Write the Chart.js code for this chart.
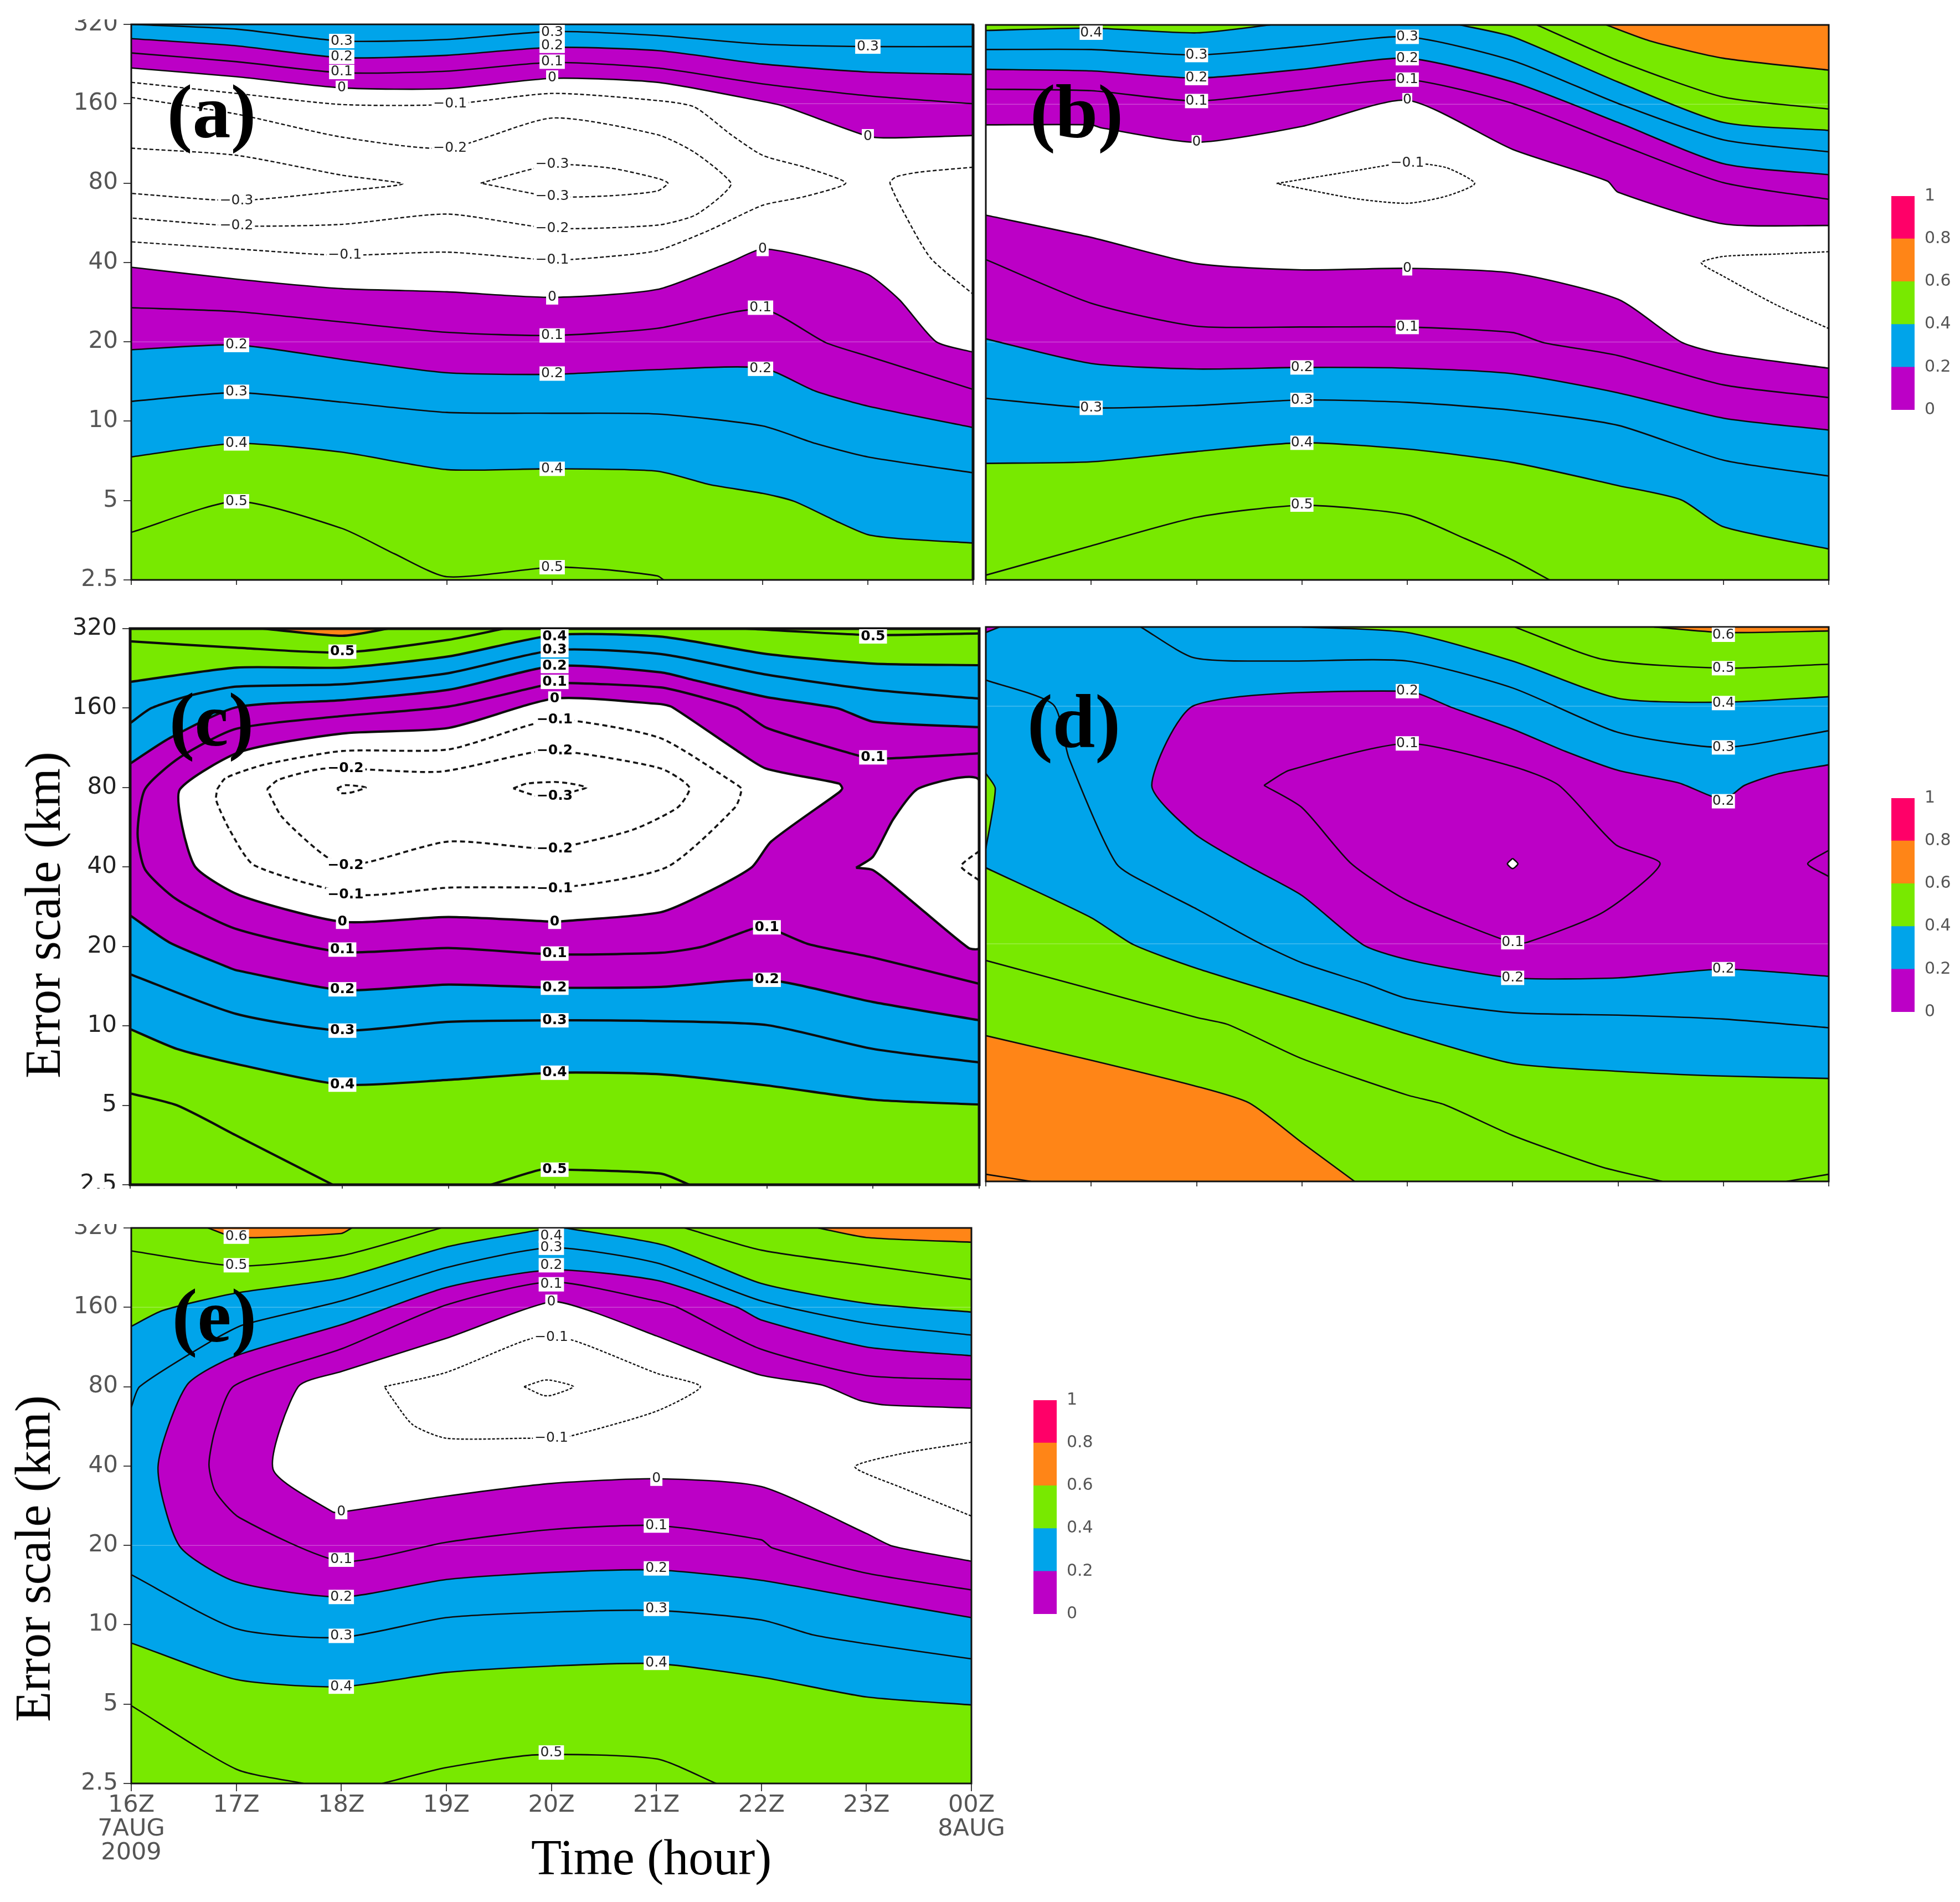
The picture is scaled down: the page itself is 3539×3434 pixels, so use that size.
<!DOCTYPE html>
<html><head><meta charset="utf-8">
<style>
html,body{margin:0;padding:0;background:#fff}
body{position:relative;width:3539px;height:3434px;overflow:hidden}
canvas{position:absolute}
.soft{filter:blur(0.6px)}
.tx{position:absolute;font-family:"Liberation Serif",serif;color:#000;white-space:nowrap;line-height:1}
</style>
<script src="https://cdn.jsdelivr.net/npm/chart.js@4/dist/chart.umd.min.js"></script>
</head><body>
<script>
// ---------- axes ----------
const yTicks = [2.5,5,10,20,40,80,160,320];
const xLabels = [['16Z','7AUG','2009'],'17Z','18Z','19Z','20Z','21Z','22Z','23Z',['00Z','8AUG']];
const barValues = [0.2,0.2,0.2,0.2,0.2];
const GREEN='#78E900',BLUE='#00A4EA',PURPLE='#BC00C6',ORANGE='#FF8517',PINK='#FF0068',WHITE='#FFFFFF';
const barColors = [PURPLE,BLUE,GREEN,ORANGE,PINK];
// Contours: [hour since 16Z, octaves above 2.5 km]
// ---------- panel (a) ----------
const a05=[[0,.6],[1,.99],[2,.65],[2.5,.33],[3,.04],[4,.16],[4.5,.13],[5,.05],[5.06,0]];
const a04=[[0,1.55],[1,1.72],[2,1.61],[3,1.39],[4,1.4],[5,1.37],[5.5,1.2],[6,1.09],[6.3,.99],[6.7,.74],[7,.57],[7.3,.52],[8,.465]];
const a03=[[0,2.25],[1,2.36],[2,2.24],[3,2.11],[4,2.1],[5,2.09],[6,1.94],[6.5,1.72],[7,1.55],[8,1.35]];
const a02=[[0,2.9],[1,2.96],[2,2.78],[3,2.61],[4,2.59],[5,2.65],[6,2.67],[6.5,2.38],[7,2.19],[8,1.92]];
const a01=[[0,3.43],[1,3.38],[2,3.25],[3,3.12],[4,3.08],[5,3.17],[6,3.41],[6.6,2.99],[7,2.82],[8,2.4]];
const a00=[[0,3.94],[1,3.79],[2,3.67],[3,3.63],[4,3.56],[5,3.66],[5.7,4.01],[6,4.17],[6.5,4.05],[7,3.85],[7.3,3.53],[7.65,3],[8,2.87]];
const a00u=[[0,6.45],[1,6.34],[2,6.2],[3,6.19],[4,6.32],[5,6.27],[6,6.03],[6.2,5.97],[7,5.59],[7.2,5.57],[8,5.6]];
const a01u=[[0,6.64],[1,6.53],[2,6.39],[3,6.41],[4,6.52],[5,6.45],[6,6.25],[7,6.1],[8,6]];
const a02u=[[0,6.82],[1,6.73],[2,6.58],[3,6.61],[4,6.71],[5,6.67],[6,6.5],[7,6.4],[8,6.37]];
const a03u=[[0,7],[1,6.94],[2,6.79],[3,6.81],[4,6.91],[5,6.86],[6,6.75],[7,6.72],[8,6.72]];
const aN1=[[0,6.27],[1,6.13],[2,5.99],[3,5.99],[4,6.13],[5,6.04],[5.35,5.96],[5.7,5.61],[6,5.35],[6.4,5.2],[6.79,5],[6.4,4.83],[6,4.72],[5.5,4.41],[5,4.15],[4.5,4.07],[4,4.03],[3,4.13],[2,4.09],[1,4.17],[0,4.26]];
const aN2=[[0,6.08],[1,5.87],[2,5.58],[3,5.44],[4,5.82],[5,5.61],[5.35,5.39],[5.7,5],[5.6,4.83],[5.35,4.59],[5,4.47],[4,4.43],[3,4.61],[2,4.48],[1,4.46],[0,4.56]];
const aN3L=[[0,5.44],[1,5.35],[2,5.1],[2.58,4.99],[2,4.9],[1,4.78],[0,4.87]];
const aN3R=[[3.32,5],[4,5.23],[4.55,5.19],[5,5.06],[5.1,5],[5,4.9],[4.55,4.84],[4,4.83],[3.32,5]];
const aNR=[[8,5.2],[7.5,5.14],[7.27,5.08],[7.21,5],[7.37,4.56],[7.6,4.05],[8,3.6]];
const aLabels=[[1,.99,'0.5'],[1,1.72,'0.4'],[1,2.37,'0.3'],[1,2.96,'0.2'],[1,4.46,'−0.2'],[1,4.78,'−0.3'],
 [2,6.79,'0.3'],[2,6.59,'0.2'],[2,6.4,'0.1'],[2,6.2,'0'],[2.03,4.09,'−0.1'],[3.03,6,'−0.1'],[3.03,5.44,'−0.2'],
 [4,6.92,'0.3'],[4,6.73,'0.2'],[4,6.53,'0.1'],[4,6.33,'0'],[4,5.24,'−0.3'],[4,4.83,'−0.3'],[4,4.43,'−0.2'],[4,4.03,'−0.1'],[4,3.56,'0'],[4,3.08,'0.1'],[4,2.6,'0.2'],[4,1.4,'0.4'],[4,.16,'0.5'],
 [6,4.17,'0'],[5.98,3.43,'0.1'],[5.98,2.66,'0.2'],[7,6.72,'0.3'],[7,5.59,'0']];
// ---------- panel (b) ----------
const b05=[[0,.06],[1,.43],[2,.79],[3,.94],[4,.82],[4.55,.52],[5,.25],[5.35,0]];
const b04=[[0,1.47],[1,1.49],[2,1.62],[3,1.73],[4,1.65],[5,1.48],[6,1.19],[6.6,1.01],[7,.67],[8,.39]];
const b03=[[0,2.29],[1,2.17],[2,2.2],[3,2.27],[4,2.24],[5,2.14],[6,1.95],[7,1.51],[8,1.31]];
const b02=[[0,3.04],[1,2.73],[2,2.66],[3,2.68],[4,2.67],[5,2.6],[6,2.36],[7,2.04],[8,1.89]];
const b01=[[0,4.04],[1,3.49],[2,3.2],[3,3.19],[4,3.19],[5,3.12],[5.3,2.99],[6,2.83],[7,2.46],[8,2.3]];
const b00=[[0,4.6],[1,4.32],[2,3.99],[3,3.91],[4,3.93],[5,3.87],[6,3.54],[6.6,3],[7,2.85],[8,2.67]];
const b00u=[[0,5.74],[1,5.74],[1.1,5.7],[2,5.52],[3,5.72],[4,6.05],[5,5.43],[5.9,5.03],[6,4.89],[7,4.49],[8,4.47]];
const b01u=[[0,6.19],[1,6.17],[2,6.04],[3,6.18],[4,6.31],[5,6.01],[6,5.5],[7,5.01],[8,4.8]];
const b02u=[[0,6.44],[1,6.42],[2,6.33],[3,6.44],[4,6.58],[5,6.28],[6,5.77],[7,5.25],[8,5.11]];
const b03u=[[0,6.69],[1,6.69],[2,6.62],[3,6.73],[4,6.85],[5,6.55],[6,6.01],[7,5.55],[8,5.4]];
const b04L=[[0,6.93],[1,6.96],[2,6.9],[2.7,7]];
const b04R=[[4.5,7],[5,6.85],[6,6.28],[7,5.77],[8,5.67]];
const b05R=[[5.23,7],[6,6.55],[7,6.09],[8,5.94]];
const b06R=[[5.89,7],[6.3,6.8],[7,6.58],[8,6.43]];
const bN1=[[2.76,5],[3.5,5.16],[4,5.26],[4.37,5.2],[4.64,5],[4.37,4.84],[4,4.75],[3.5,4.81],[2.76,5]];
const bNR=[[8,4.14],[7.5,4.11],[7,4.08],[6.79,4],[7,3.83],[7.5,3.47],[8,3.17]];
const bLabels=[[1,6.96,'0.4'],[1,2.17,'0.3'],[2,6.62,'0.3'],[2,6.33,'0.2'],[2,6.04,'0.1'],[2,5.52,'0'],
 [3,2.68,'0.2'],[3,2.27,'0.3'],[3,1.73,'0.4'],[3,.95,'0.5'],[4,6.85,'0.3'],[4,6.58,'0.2'],[4,6.31,'0.1'],[4,6.05,'0'],[4,5.26,'−0.1'],[4,3.93,'0'],[4,3.19,'0.1']];
// ---------- panel (c) ----------
const c05=[[0,1.15],[.44,1],[1,.62],[1.91,0]];
const c05b=[[3.4,0],[3.87,.19],[4.1,.19],[5,.14],[5.27,0]];
const c04=[[0,1.96],[.44,1.71],[1,1.52],[2,1.26],[3,1.32],[4,1.41],[5,1.39],[6,1.25],[7,1.07],[8,1.01]];
const c03=[[0,2.65],[1,2.15],[2,1.94],[3,2.05],[4,2.07],[5,2.06],[6,2.01],[7,1.71],[8,1.54]];
const c02=[[0,3.39],[.37,3.05],[.9,2.75],[1,2.7],[2,2.45],[3,2.52],[4,2.48],[5,2.49],[6,2.58],[7,2.3],[8,2.07]];
const c01=[[8,2.53],[7,2.86],[6.39,3.03],[6,3.24],[5.86,3.22],[5.4,3],[5,2.92],[4,2.9],[3,2.98],[2,2.93],[1,3.22],[.44,3.59],[.14,3.97],[.07,4.42],[.14,4.98],[.47,5.38],[1,5.74],[2,5.9],[3,6.02],[3.87,6.28],[4,6.32],[5,6.26],[5.38,6.14],[5.72,6],[6,5.75],[6.84,5.41],[7,5.36],[8,5.43]];
const c00=[[4,3.31],[5,3.43],[5.48,3.71],[5.86,4],[6.04,4.32],[6.68,4.94],[6.71,4.99],[6.68,5.05],[5.99,5.24],[5.7,5.48],[5.11,6.01],[5,6.05],[4,6.12],[3,5.75],[2,5.68],[1.04,5.45],[.47,4.98],[.49,4.51],[.62,3.99],[1.04,3.64],[2,3.31],[3,3.37],[4,3.31]];
const c00R=[[6.84,3.99],[7,4.13],[7.19,4.6],[7.43,4.99],[8,5.09],[8,2.98],[7.9,2.98],[7.32,3.62],[7,3.96],[6.84,3.99]];
const c02u=[[0,5.3],[.37,5.62],[1,6.01],[2,6.1],[3,6.23],[4,6.53],[5,6.45],[5.32,6.35],[5.99,6.14],[6.66,6],[7,5.83],[8,5.76]];
const c03u=[[0,5.81],[.2,6],[.57,6.16],[1,6.27],[2,6.3],[3,6.44],[4,6.73],[5,6.68],[6,6.42],[7,6.23],[8,6.12]];
const c04u=[[0,6.33],[1,6.51],[2,6.51],[3,6.65],[4,6.92],[5,6.9],[6,6.68],[7,6.56],[8,6.54]];
const c05u=[[0,6.84],[1,6.76],[2,6.7],[3,6.86],[3.52,7]];
const c05R=[[5.8,7],[6.97,6.92],[8,6.94]];
const c06=[[1.25,7],[2,6.91],[2.43,7]];
const cN1=[[.82,4.98],[.9,5.12],[1.27,5.29],[2,5.46],[3,5.48],[3.83,5.81],[4.18,5.84],[5,5.62],[5.7,5.05],[5.76,4.98],[5.7,4.75],[5.06,4],[4.18,3.76],[3,3.74],[2.16,3.65],[1.17,4.02],[.94,4.46],[.81,4.84],[.82,4.98]];
const cN2=[[1.29,4.98],[1.4,5.1],[1.84,5.24],[2.92,5.2],[3.83,5.45],[4.18,5.44],[5,5.24],[5.27,5],[5.16,4.75],[4.74,4.47],[4.18,4.28],[3.9,4.23],[3,4.32],[2.16,4.04],[1.87,4.11],[1.43,4.63],[1.29,4.98]];
const cN3L=[[1.95,4.99],[2.03,5.03],[2.22,5],[2.09,4.94],[1.99,4.93],[1.95,4.99]];
const cN3R=[[3.61,4.99],[3.74,5.05],[4,5.07],[4.15,5.05],[4.3,5],[4.15,4.94],[4,4.84],[3.74,4.93],[3.61,4.99]];
const cNR=[[8,4.2],[7.83,4.01],[8,3.83]];
const cLabels=[[2,6.71,'0.5'],[4,6.92,'0.4'],[4,6.73,'0.3'],[4,6.53,'0.2'],[4,6.33,'0.1'],[4,6.12,'0'],[4,5.85,'−0.1'],[4,5.46,'−0.2'],[4,4.89,'−0.3'],[4,4.23,'−0.2'],[4,3.73,'−0.1'],[4,3.31,'0'],[4,2.91,'0.1'],[4,2.48,'0.2'],[4,2.07,'0.3'],[4,1.41,'0.4'],[4,.19,'0.5'],
 [2.03,5.24,'−0.2'],[2.03,4.02,'−0.2'],[2.03,3.65,'−0.1'],[2,3.31,'0'],[2,2.96,'0.1'],[2,2.46,'0.2'],[2,1.94,'0.3'],[2,1.26,'0.4'],[6,3.24,'0.1'],[6,2.58,'0.2'],[7,6.92,'0.5'],[7,5.38,'0.1']];
// ---------- panel (d) ----------
const d06=[[0,1.84],[1,1.53],[2,1.2],[2.5,.99],[3,.49],[3.5,0]];
const d07=[[0,.09],[.43,0]];
const d05=[[0,2.79],[1,2.43],[2,2.07],[2.3,1.98],[3,1.55],[4,1.09],[4.35,.97],[5,.58],[5.85,.18],[6.42,0]];
const d05b=[[7.6,0],[8,.09]];
const d04=[[0,3.96],[1,3.33],[1.4,2.99],[2,2.69],[3,2.28],[4,1.86],[5,1.49],[6,1.39],[7,1.33],[8,1.3]];
const d03=[[0,6.33],[.64,6.02],[.79,5.34],[1.24,4.01],[1.62,3.7],[2,3.44],[2.58,3.02],[3,2.76],[3.6,2.5],[4,2.31],[5,2.13],[6,2.1],[7,2.05],[8,1.94]];
const d02=[[8,2.59],[7,2.68],[6,2.57],[5,2.57],[4.07,2.78],[3.59,2.98],[3,3.61],[2.52,3.96],[1.98,4.39],[1.575,5],[1.98,6.01],[4,6.19],[4.43,5.98],[5,5.71],[5.5,5.43],[6,5.19],[6.58,5.03],[7,4.82],[7.2,5],[7.53,5.15],[8,5.26]];
const d01=[[2.64,5],[2.88,5.19],[4,5.53],[5,5.24],[5.44,5],[5.98,4.25],[6.4,4.01],[5.86,3.4],[5.14,3.02],[4.98,3.02],[4.01,3.54],[3.47,4.01],[3,4.72],[2.64,5]];
const d01Dot=[[5,4.08],[5.05,4.01],[5,3.95],[4.95,4.01],[5,4.08]];
const d01R=[[8,4.18],[7.8,4.01],[8,3.85]];
const d03u=[[1.47,7],[1.98,6.61],[2.88,6.57],[4,6.57],[5,6.23],[6,5.67],[7,5.48],[8,5.69]];
const d04u=[[3,7],[4,6.93],[5,6.57],[6,6.1],[7,6.05],[8,6.12]];
const d05u=[[5.02,7],[5.86,6.59],[7,6.48],[8,6.53]];
const d06u=[[6.34,7],[7,6.93],[8,6.95]];
const d04L=[[0,5.15],[.09,4.96],[0,4.2]];
const d02TL=[[0,6.93],[.13,7]];
const dLabels=[[7,6.95,'0.6'],[7,6.48,'0.5'],[7,6.04,'0.4'],[7,5.48,'0.3'],[7,4.8,'0.2'],[4,6.19,'0.2'],[4,5.53,'0.1'],[5,3.02,'0.1'],[5,2.57,'0.2'],[7,2.68,'0.2']];
// ---------- panel (e) ----------
const e05=[[0,.98],[1,.18],[1.64,0]];
const e05b=[[2.39,0],[3,.2],[3.85,.36],[5,.31],[5.57,0]];
const e04=[[0,1.77],[1,1.31],[2,1.22],[3,1.4],[4,1.48],[5,1.51],[6,1.34],[7,1.09],[8,.99]];
const e03=[[0,2.63],[1,1.95],[2,1.84],[3,2.09],[4,2.16],[5,2.18],[6,2.06],[6.5,1.87],[7,1.76],[8,1.57]];
const e02=[[8,2.09],[7,2.32],[6,2.56],[5,2.69],[4,2.66],[3,2.57],[2,2.35],[1,2.54],[.46,2.99],[.255,3.99],[.53,5.02],[1,5.39],[2,5.78],[3,6.25],[4,6.47],[5,6.34],[5.77,6],[6,5.84],[7,5.5],[8,5.39]];
const e01=[[8,2.44],[7,2.65],[6.1,2.97],[6,3.07],[5,3.25],[4,3.2],[3,3.04],[2,2.8],[1.03,3.35],[.8,3.68],[.74,4.02],[.8,4.46],[.98,5.01],[2.01,5.48],[3,6.03],[4,6.32],[5,6.08],[5.2,6],[5.98,5.48],[7,5.14],[8,5.09]];
const e00=[[8,2.8],[7.25,2.99],[7,3.15],[6,3.74],[5,3.84],[4,3.78],[3,3.62],[2,3.42],[1.92,3.42],[1.35,3.96],[1.59,5],[2,5.19],[3,5.61],[4,6.07],[4.4,5.94],[5,5.64],[5.98,5.15],[6.58,5.02],[6.93,4.83],[7.17,4.77],[8,4.73]];
const e03u=[[0,4.74],[.08,5],[.77,5.58],[1.07,5.78],[2,6.08],[3,6.5],[4,6.75],[5,6.56],[6,6.08],[7,5.8],[8,5.65]];
const e04L=[[0,5.76],[.3,5.96],[1,6.18],[2,6.37],[3,6.76],[3.82,6.96],[4,7]];
const e04R=[[4.13,7],[5.08,6.78],[6,6.3],[7,6.05],[8,5.94]];
const e05L=[[0,6.71],[1,6.52],[2,6.65],[2.95,7]];
const e05R=[[5.27,7],[6,6.72],[7,6.53],[8,6.35]];
const e06L=[[.73,7],[1,6.88],[2,6.93],[2.1,7]];
const e06R=[[6.54,7],[7,6.88],[8,6.82]];
const eN1=[[2.41,5],[3,5.18],[3.82,5.61],[4.19,5.59],[5,5.17],[5.42,5],[5,4.69],[4.19,4.38],[4,4.35],[3.78,4.35],[3,4.35],[2.68,4.52],[2.48,4.86],[2.41,5]];
const eN2=[[3.74,5],[3.92,5.08],[4,5.08],[4.21,5],[4,4.89],[3.92,4.89],[3.74,5]];
const eNR=[[8,4.3],[7.35,4.16],[6.89,3.99],[7.35,3.72],[8,3.37]];
const eLabels=[[1,6.89,'0.6'],[1,6.53,'0.5'],[2,3.42,'0'],[2,2.82,'0.1'],[2,2.35,'0.2'],[2,1.86,'0.3'],[2,1.22,'0.4'],[4,6.97,'0.4'],[4,6.75,'0.3'],[4,6.53,'0.2'],[4,6.29,'0.1'],[4,6.07,'0'],[4,5.62,'−0.1'],[4,4.35,'−0.1'],[4,.39,'0.5'],[5,3.84,'0'],[5,3.25,'0.1'],[5,2.71,'0.2'],[5,2.2,'0.3'],[5,1.52,'0.4']];
// faint horizontal rules at 20 km and 160 km
const faint20=[[0,3],[8,3]], faint160=[[0,6],[8,6]];

const km = s => 2.5*Math.pow(2,s);
const rev = a => [...a].reverse();
// repeating an end point keeps the spline of a filled outline the same as that of its contour
const dup = l => [l[0],...l,l[l.length-1]];
const TOP=[[8,7],[8,7],[0,7],[0,7]];
const RECT=[[0,0],[0,0],[8,0],[8,0],...TOP];
const above = l => [...dup(l),...(l[0][0]===0?TOP:[[8,7],[8,7]])];

const panels = [
 {id:'a',L:237,R:1757,T:44,B:1047,showT:9,showB:11,frame:3,rightW:5,line:2.6,dash:[7,4],dashW:2.4,tickW:2,yLabels:true,
  fills:[[GREEN,RECT],[BLUE,above(a04)],[PURPLE,above(a02)],[WHITE,above(a00)],[PURPLE,above(a00u)],[BLUE,above(a02u)]],
  lines:[a05,a04,a03,a02,a01,a00,a00u,a01u,a02u,a03u],dashes:[aN1,aN2,aN3L,aN3R,aNR],labels:aLabels,faint:true,lab:[382,202]},
 {id:'b',L:1780,R:3302,T:45,B:1047,showT:40,showB:40,frame:3,line:2.6,dash:[5,3],dashW:2.4,tickW:2,
  fills:[[GREEN,RECT],[BLUE,above(b04)],[PURPLE,above(b02)],[WHITE,above(b00)],[PURPLE,above(b00u)],[BLUE,above(b02u)],[GREEN,[...dup(b04L),[0,7],[0,7]]],[GREEN,above(b04R)],[ORANGE,above(b06R)]],
  lines:[b05,b04,b03,b02,b01,b00,b00u,b01u,b02u,b03u,b04L,b04R,b05R,b06R],dashes:[bN1,bNR],labels:bLabels,faint:true,lab:[1944,202]},
 {id:'c',L:235,R:1768,T:1135,B:2139,showT:40,showB:7,frame:5,line:4.2,dash:[9,6],dashW:3.6,tickW:2,yLabels:true,bold:true,crisp:true,
  fills:[[GREEN,RECT],[BLUE,above(c04)],[PURPLE,above(c02)],[WHITE,c00],[WHITE,c00R],[BLUE,above(c02u)],[GREEN,above(c04u)],[ORANGE,c06]],
  lines:[c05,c05b,c04,c03,c02,c01,c00,c00R,c02u,c03u,c04u,c05u,c05R,c06],dashes:[cN1,cN2,cN3L,cN3R,cNR],labels:cLabels,lab:[382,1300]},
 {id:'d',L:1780,R:3302,T:1132,B:2133,showT:40,showB:40,frame:3,line:2.6,dash:null,dashW:2,tickW:2,
  fills:[[GREEN,RECT],[ORANGE,[...dup(d06),[0,0],[0,0]]],[BLUE,[...dup(d04),...dup(rev(d04u)),[0,7],[0,7]]],[GREEN,d04L],[PURPLE,d02],[PURPLE,[...dup(d02TL),[0,7],[0,7]]],[GREEN,above(d04u)],[ORANGE,above(d06u)],[WHITE,d01Dot]],
  lines:[d07,d06,d05,d05b,d04,d03,d02,d01,d01Dot,d01R,d03u,d04u,d05u,d06u,d04L,d02TL],dashes:[],labels:dLabels,faint:true,lab:[1939,1303]},
 {id:'e',L:237,R:1754,T:2217,B:3220,showT:7,showB:190,frame:3,line:2.6,dash:[5,3],dashW:2.4,tickW:2,yLabels:true,xLabels:true,
  fills:[[GREEN,RECT],[BLUE,[...dup(e04),...dup(rev(e04R)),[4,7],...dup(rev(e04L))]],[PURPLE,e02],[WHITE,e00],[ORANGE,e06L],[ORANGE,above(e06R)]],
  lines:[e05,e05b,e04,e03,e02,e01,e00,e03u,e04L,e04R,e05L,e05R,e06L,e06R],dashes:[eN1,eN2,eNR],labels:eLabels,faint:true,lab:[387,2376]}
];

const mkCanvas=(l,t,w,h)=>{const c=document.createElement('canvas');c.width=w;c.height=h;
 c.style.left=l+'px';c.style.top=t+'px';c.style.width=w+'px';c.style.height=h+'px';document.body.appendChild(c);return c;};
const toXY=pts=>pts.map(([h,s])=>({x:h,y:km(s)}));
const base={responsive:false,animation:false,devicePixelRatio:1,events:[],plugins:{legend:{display:false},tooltip:{enabled:false},title:{display:false}}};
const TENSION=0.22;

panels.forEach(p=>{
 const MM=p.yLabels?p.L:60, RP=80, PT=40, BP=p.xLabels?190:40;
 const cv=mkCanvas(p.L-MM,p.T-PT,MM+(p.R-p.L)+RP,(p.B-p.T)+PT+BP);
 if(!p.crisp)cv.className='soft';
 cv.style.clipPath=`inset(${PT-p.showT}px 0 ${BP-p.showB}px 0)`;
 const ds=[];
 p.fills.forEach(([col,pts])=>ds.push({data:toXY(pts),showLine:true,pointRadius:0,borderWidth:0,backgroundColor:col,fill:'shape',tension:TENSION}));
 if(p.faint)[faint20,faint160].forEach(f=>ds.push({data:toXY(f),showLine:true,pointRadius:0,borderWidth:1.5,borderColor:'rgba(255,255,255,.28)',fill:false}));
 p.lines.forEach(l=>ds.push({data:toXY(l),showLine:true,pointRadius:0,borderWidth:p.line,borderColor:'#0c0c0c',fill:false,tension:TENSION,borderJoinStyle:'round'}));
 p.dashes.forEach(l=>ds.push({data:toXY(l),showLine:true,pointRadius:0,borderWidth:p.dashW,borderColor:'#151515',borderDash:p.dash,fill:false,tension:TENSION}));
 ds.forEach((d,i)=>d.order=ds.length-i);
 const deco={id:'deco',afterDatasetsDraw(ch){
   const {ctx,chartArea:A,scales:{x,y}}=ch;
   ctx.save();
   ctx.strokeStyle='#111';ctx.lineWidth=p.frame;ctx.strokeRect(A.left,A.top,A.right-A.left,A.bottom-A.top);
   if(p.rightW){ctx.lineWidth=p.rightW;ctx.beginPath();ctx.moveTo(A.right,A.top);ctx.lineTo(A.right,A.bottom);ctx.stroke();}
   ctx.font=(p.bold?'bold ':'')+'25px "DejaVu Sans"';ctx.textAlign='center';ctx.textBaseline='middle';
   p.labels.forEach(([h,s,t])=>{
     const px=x.getPixelForValue(h),py=y.getPixelForValue(km(s));
     const w=ctx.measureText(t).width+(p.yLabels?6:2);
     ctx.fillStyle='#fff';ctx.fillRect(px-w/2,Math.max(py-13,A.top+1),w,26);
     ctx.fillStyle=p.bold?'#000':'#222';ctx.fillText(t,px,Math.max(py,A.top+14));
   });
   ctx.restore();
 }};
 new Chart(cv,{type:'scatter',data:{datasets:ds},plugins:[deco],options:{...base,
  layout:{padding:{left:0,top:PT,right:RP,bottom:0}},
  scales:{
   x:{type:'linear',min:0,max:8,
      grid:{drawOnChartArea:false,drawTicks:true,tickLength:p.xLabels?14:9,color:'#444',lineWidth:p.tickW},
      border:{display:false},
      ticks:{stepSize:1,maxRotation:0,autoSkip:false,includeBounds:true,display:true,padding:p.xLabels?4:0,
        color:'#555',font:{family:'"DejaVu Sans"',size:43,lineHeight:1.0},
        callback:v=>p.xLabels?xLabels[v]:''},
      afterFit:s=>{s.height=BP;}},
   y:{type:'logarithmic',min:2.5,max:320,
      afterBuildTicks:s=>{s.ticks=yTicks.map(v=>({value:v}));},
      grid:{drawOnChartArea:false,drawTicks:p.yLabels===true,tickLength:14,color:'#444',lineWidth:p.tickW},
      border:{display:false},
      ticks:{display:true,autoSkip:false,padding:10,color:p.bold?'#222':'#555',
        font:{family:'"DejaVu Sans"',size:42},callback:v=>p.yLabels?String(v):''},
      afterFit:s=>{s.width=MM;}}
  }}});
 const d=document.createElement('div');d.className='tx';d.textContent='('+p.id+')';
 d.style.cssText=`left:${p.lab[0]}px;top:${p.lab[1]}px;transform:translate(-50%,-50%);font-size:138px;font-weight:bold`;
 document.body.appendChild(d);
});

// colour bars
[[3415,354,740],[3415,1441,1827],[1866,2528,2914]].forEach(([l,t,b])=>{
 const cv=mkCanvas(l,t-40,124,b-t+80);cv.className='soft';
 new Chart(cv,{type:'bar',data:{labels:[''],datasets:barValues.map((v,i)=>({data:[v],backgroundColor:barColors[i],barPercentage:1,categoryPercentage:1,borderWidth:0}))},
  options:{...base,layout:{padding:{top:40,bottom:40,left:0,right:0}},
   scales:{x:{stacked:true,display:false},
    y:{stacked:true,position:'right',min:0,max:1,grid:{display:false},border:{display:false},
       afterFit:s=>{s.width=82;},
       ticks:{stepSize:.2,padding:10,color:'#555',font:{family:'"DejaVu Sans"',size:30},callback:v=>String(+v.toFixed(1))}}}}});
});

const addText=(txt,css)=>{const t=document.createElement('div');t.className='tx';t.textContent=txt;t.style.cssText=css;document.body.appendChild(t);};
addText('Time (hour)','left:959px;top:3309px;font-size:90px');
addText('Error scale (km)','left:78px;top:1652px;font-size:90px;transform:translate(-50%,-50%) rotate(-90deg)');
addText('Error scale (km)','left:60px;top:2814px;font-size:90px;transform:translate(-50%,-50%) rotate(-90deg)');
</script>
</body></html>
